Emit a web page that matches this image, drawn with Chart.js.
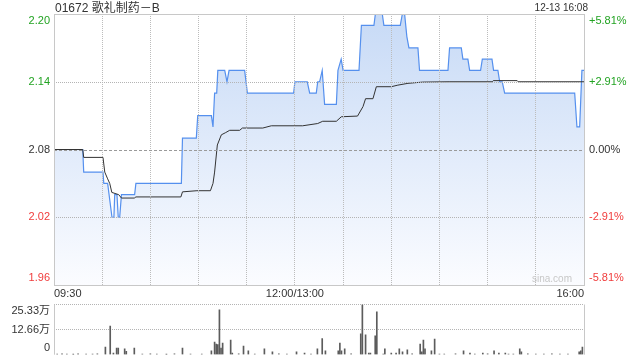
<!DOCTYPE html>
<html>
<head>
<meta charset="utf-8">
<script src="https://cdn.jsdelivr.net/npm/chart.js@4.4.1/dist/chart.umd.min.js"></script>
<style>
  body { margin: 0; background: #fff; font-family: Arial, "Liberation Sans", "Noto Sans CJK SC", sans-serif; }
  #wrap { position: relative; width: 640px; height: 360px; overflow: hidden; }
  canvas { position: absolute; left: 0; }
  .txt { position: absolute; white-space: nowrap; }
</style>
</head>
<body>
<div id="wrap">
  <canvas id="priceChart" width="640" height="300" style="top:0"></canvas>
  <canvas id="volChart" width="640" height="68" style="top:292px"></canvas>
  <div class="txt" style="left:55px;top:0;font-size:12px;line-height:16px;color:#333">01672 歌礼制药－B</div>
  <div class="txt" style="right:52px;top:1px;font-size:10px;line-height:14px;color:#333">12-13 16:08</div>
  <div class="txt" style="left:532px;top:272px;font-size:10px;line-height:14px;color:#c8c8c8">sina.com</div>
</div>
<script>
  // minutes since 09:30 (lunch break removed), 330 = 16:00
  const priceX = [0,17.9,18.5,30.5,31,33.4,36.1,37.3,37.8,39.2,40,40.9,42,50.2,51,79.3,80,88.6,89.5,98,99,100,101.3,102,106.3,107.7,109,118.7,120.4,149.2,150,157.7,159.2,163.3,164.2,165.4,167,168.5,175.8,176.8,178.8,180,189.9,191.4,199.2,200.1,204.4,205.4,215.6,216.9,218.3,219.7,221,226.6,227.6,245.3,246.3,253.6,254.6,257.7,258.8,265.6,266.7,272.7,273.7,276.4,277.5,279.1,280.6,324.2,325.6,327.3,328.7,330];
  const priceY = [2.08,2.08,2.06,2.06,2.05,2.05,2.02,2.02,2.04,2.04,2.02,2.02,2.04,2.04,2.05,2.05,2.09,2.09,2.11,2.11,2.10,2.13,2.13,2.15,2.15,2.14,2.15,2.15,2.13,2.13,2.14,2.14,2.13,2.13,2.14,2.14,2.15,2.12,2.12,2.15,2.16,2.15,2.15,2.19,2.19,2.20,2.20,2.19,2.19,2.20,2.20,2.18,2.17,2.17,2.15,2.15,2.17,2.17,2.16,2.16,2.15,2.15,2.16,2.16,2.15,2.15,2.14,2.14,2.13,2.13,2.10,2.10,2.15,2.15];

  const avgX = [0,17.9,18.5,30.5,31.6,33.4,34.7,36,40.3,42,50,51,79,80,89,97.4,99,100,101.7,104.2,106.9,109.4,115.6,117.3,130,135.3,154.8,164.2,167.3,175.8,178.9,189,192.4,194,198.6,200.7,210,214.1,220.4,229.5,246,272.9,273.5,288.4,289,330];
  const avgY = [2.08,2.08,2.073,2.073,2.06,2.054,2.05,2.042,2.04,2.037,2.037,2.038,2.038,2.0425,2.0435,2.0435,2.05,2.06,2.084,2.093,2.095,2.097,2.097,2.099,2.099,2.101,2.101,2.103,2.105,2.105,2.109,2.1096,2.118,2.125,2.125,2.1356,2.1356,2.137,2.1386,2.1397,2.14,2.14,2.141,2.141,2.14,2.14];

  // volume, in 万
  const volX = [32,35,37,39,40,44,45,50,80,98,100,101,102,103,104,105,110,111,118,121,131,136,151,156,164,167,169,177,178,179,181,191,192,194,196,197,200,201,206,210,213,215,217,220,228,229,230,231,235,237,255,259,267,274,277,281,290,291,327,328,329];
  const volY = [3.9,14.5,0.8,3.4,3.4,2.9,1.7,3.4,3.4,2.0,6.4,5.4,5.1,22.6,3.4,5.9,7.4,0.8,4.4,2.0,2.9,1.4,1.4,0.8,2.9,8.1,2.0,2.0,5.9,2.0,2.9,10.5,25.33,10.0,0.8,0.8,9.5,21.6,2.9,0.8,0.8,2.9,1.4,2.4,5.4,1.4,7.4,2.9,1.9,7.9,1.9,0.8,0.8,1.9,0.8,0.8,2.9,1.4,1.4,1.9,3.9];
  const tinyVolX = [2,5,8,12,15,20,24,27,55,60,64,70,75,85,92,115,125,140,145,160,185,205,223,240,243,250,262,270,283,286,295,300,305,310,315,320];
  const tinyVolY = [0.3,0.4,0.3,0.2,0.4,0.3,0.3,0.4,0.3,0.4,0.3,0.2,0.4,0.3,0.3,0.4,0.3,0.4,0.3,0.3,0.4,0.3,0.4,0.3,0.3,0.4,0.3,0.4,0.3,0.3,0.4,0.3,0.3,0.4,0.3,0.3];

  const priceTicks = [1.96, 2.02, 2.08, 2.14, 2.20];
  const pctTicks = [-5.81, -2.91, 0, 2.91, 5.81];
  const volTicks = [0, 12.66, 25.33];
  const timeLabels = {0: "09:30", 150: "12:00/13:00", 330: "16:00"};
  const prevClose = 2.08;

  const GREEN = "#22a322";
  const RED = "#f03c3c";
  const GRID = "#bcbcbc";
  const HGRID = "#b4b4b4";

  Chart.defaults.font.family = 'Arial, "Liberation Sans", "Noto Sans CJK SC", sans-serif';
  Chart.defaults.font.size = 11;
  Chart.defaults.color = "#333";

  function xy(xs, ys) {
    return xs.map((x, i) => ({ x: x, y: ys[i] }));
  }

  // top label pushed down, bottom label pushed up (two-line trick)
  function edgeLabel(text, i, n) {
    if (i === n - 1) return ["", text];
    if (i === 0) return [text, ""];
    return text;
  }

  function fixWidth(w) {
    return (s) => { s.width = w; s.paddingTop = 0; s.paddingBottom = 0; };
  }

  // frame + horizontal price grid, drawn last so nothing covers it
  const framePlugin = {
    id: "frame",
    afterDraw(chart) {
      const a = chart.chartArea;
      const ctx = chart.ctx;
      const ys = chart.scales.y;
      const left = Math.round(a.left), right = Math.round(a.right);
      ctx.save();
      priceTicks.forEach(v => {
        const row = Math.round(ys.getPixelForValue(v));
        const isBase = Math.abs(v - prevClose) < 1e-6;
        ctx.fillStyle = isBase ? "#9a9a9a" : HGRID;
        for (let px = left; px < right; px += isBase ? 5 : 2) {
          ctx.fillRect(px, row, isBase ? 3 : 1, 1);
        }
      });
      ctx.strokeStyle = "#c8c8c8";
      ctx.lineWidth = 1;
      ctx.strokeRect(left + 0.5, Math.round(a.top) + 0.5, right - left, Math.round(a.bottom - a.top));
      ctx.restore();
    }
  };

  const sideBorders = {
    id: "sides",
    afterDraw(chart) {
      const a = chart.chartArea;
      const ctx = chart.ctx;
      ctx.save();
      ctx.strokeStyle = "#c8c8c8";
      ctx.lineWidth = 1;
      ctx.beginPath();
      ctx.moveTo(Math.round(a.left) + 0.5, a.top);
      ctx.lineTo(Math.round(a.left) + 0.5, a.bottom);
      ctx.moveTo(Math.round(a.right) + 0.5, a.top);
      ctx.lineTo(Math.round(a.right) + 0.5, a.bottom);
      ctx.stroke();
      ctx.restore();
    }
  };

  new Chart("priceChart", {
    type: "line",
    data: {
      datasets: [
        {
          data: xy(avgX, avgY),
          borderColor: "#333",
          borderWidth: 1,
          pointRadius: 0,
          fill: false
        },
        {
          data: xy(priceX, priceY),
          borderColor: "#5590ee",
          borderWidth: 1.2,
          pointRadius: 0,
          fill: "start",
          backgroundColor: (c) => {
            const a = c.chart.chartArea;
            if (!a) return "rgba(0,0,0,0)";
            const g = c.chart.ctx.createLinearGradient(0, a.top, 0, a.bottom);
            g.addColorStop(0, "#c7daf6");
            g.addColorStop(1, "#fbfcff");
            return g;
          }
        }
      ]
    },
    options: {
      responsive: false,
      animation: false,
      devicePixelRatio: 1,
      layout: { padding: { top: 14, left: 0, right: 0, bottom: 0 } },
      plugins: { legend: { display: false }, tooltip: { enabled: false } },
      scales: {
        x: {
          type: "linear",
          min: 0,
          max: 330,
          afterBuildTicks: (s) => { s.ticks = []; for (let m = 0; m <= 330; m += 30) s.ticks.push({ value: m }); },
          afterFit: (s) => { s.height = 15; },
          ticks: {
            autoSkip: false,
            maxRotation: 0,
            align: "inner",
            padding: 2,
            color: "#333",
            callback: (v) => timeLabels[v] || ""
          },
          grid: { color: GRID, drawTicks: false, z: 1 },
          border: { display: false, dash: [1, 1] }
        },
        y: {
          position: "left",
          min: 1.96,
          max: 2.20,
          afterBuildTicks: (s) => { s.ticks = priceTicks.map(v => ({ value: v })); },
          afterFit: fixWidth(54),
          ticks: {
            autoSkip: false,
            padding: 4,
            callback: (v, i, t) => edgeLabel(Number(v).toFixed(2), i, t.length),
            color: (c) => c.tick.value > prevClose + 1e-6 ? GREEN : (c.tick.value < prevClose - 1e-6 ? RED : "#333")
          },
          grid: { display: false, drawTicks: false },
          border: { display: false }
        },
        y2: {
          position: "right",
          min: -5.81,
          max: 5.81,
          afterBuildTicks: (s) => { s.ticks = pctTicks.map(v => ({ value: v })); },
          afterFit: fixWidth(56),
          ticks: {
            autoSkip: false,
            padding: 5,
            callback: (v, i, t) => edgeLabel((v > 0 ? "+" : "") + Number(v).toFixed(2) + "%", i, t.length),
            color: (c) => c.tick.value > 0 ? GREEN : (c.tick.value < 0 ? RED : "#333")
          },
          grid: { display: false, drawTicks: false },
          border: { display: false }
        }
      }
    },
    plugins: [framePlugin]
  });

  new Chart("volChart", {
    type: "bar",
    data: {
      datasets: [
        {
          data: xy(volX, volY),
          backgroundColor: "#5c5c5c",
          barThickness: 1,
          grouped: false
        },
        {
          data: xy(tinyVolX, tinyVolY),
          backgroundColor: "#5c5c5c",
          barThickness: 1,
          grouped: false
        }
      ]
    },
    options: {
      responsive: false,
      animation: false,
      devicePixelRatio: 1,
      layout: { padding: { top: 12.5, left: 0, right: 56, bottom: 5.3 } },
      plugins: { legend: { display: false }, tooltip: { enabled: false } },
      scales: {
        x: {
          type: "linear",
          min: 0,
          max: 330,
          offset: false,
          display: false
        },
        y: {
          min: 0,
          max: 25.33,
          afterBuildTicks: (s) => { s.ticks = volTicks.map(v => ({ value: v })); },
          afterFit: fixWidth(54),
          ticks: {
            autoSkip: false,
            padding: 4,
            color: "#333",
            callback: (v, i, t) => edgeLabel(v === 0 ? "0" : Number(v).toFixed(2) + "万", i, t.length)
          },
          grid: {
            drawTicks: false,
            color: (c) => c.tick.value === 0 ? "rgba(0,0,0,0)" : "#b4b4b4"
          },
          border: { display: false, dash: [1, 1] }
        }
      }
    },
    plugins: [sideBorders]
  });
</script>
</body>
</html>
